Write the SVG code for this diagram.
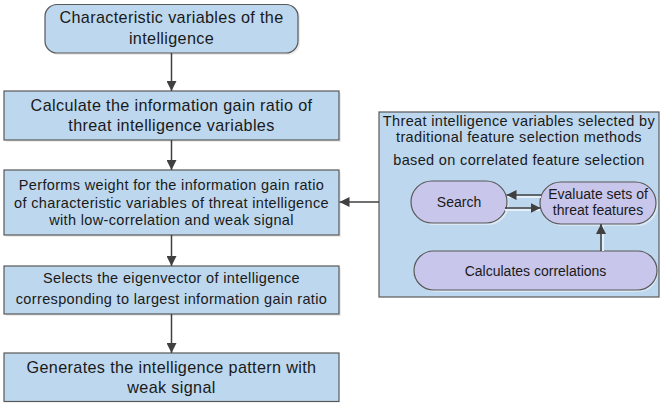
<svg xmlns="http://www.w3.org/2000/svg" width="660" height="403" viewBox="0 0 660 403">
<defs>
<style>
.box{fill:#bdd7ee;stroke:#595959;stroke-width:1.2}
.pill{fill:#c8c6ea;stroke:#595959;stroke-width:1.2}
.sh{fill:#ececec}
.shi{fill:#dbe9f6}
.t{font-family:"Liberation Sans",Arial,sans-serif;fill:#1a1a1a;text-anchor:middle}
.t16{font-size:16.2px;letter-spacing:0.35px}
.t145{font-size:14.5px;letter-spacing:0.35px}
.t14{font-size:14px}
.con{stroke:#404040;stroke-width:1.5;fill:none}
</style>
<marker id="ah" viewBox="0 0 10 10" refX="10" refY="5" markerWidth="10" markerHeight="10" markerUnits="userSpaceOnUse" orient="auto">
<path d="M0,0 L10,5 L0,10 Z" fill="#404040"/>
</marker>
</defs>
<rect width="660" height="403" fill="#fff"/>

<g id="n1">
<rect class="sh" x="47" y="6" width="253" height="49" rx="12"/>
<rect class="box" x="45" y="4.5" width="253" height="48.5" rx="12"/>
<text class="t t16" x="171.5" y="23">Characteristic variables of the</text>
<text class="t t16" x="171.5" y="44">intelligence</text>
</g>

<g id="n2">
<rect class="sh" x="6" y="93" width="335" height="49"/>
<rect class="box" x="4" y="91" width="335" height="49"/>
<text class="t t16" x="171.5" y="110.5">Calculate the information gain ratio of</text>
<text class="t t16" x="171.5" y="131">threat intelligence variables</text>
</g>

<g id="n3">
<rect class="sh" x="6" y="172" width="335" height="65"/>
<rect class="box" x="4" y="170" width="335" height="65"/>
<text class="t t145" x="171.5" y="190">Performs weight for the information gain ratio</text>
<text class="t t145" x="171.5" y="207.5">of characteristic variables of threat intelligence</text>
<text class="t t145" x="171.5" y="225">with low-correlation and weak signal</text>
</g>

<g id="n4">
<rect class="sh" x="6" y="268" width="335" height="48"/>
<rect class="box" x="4" y="266" width="335" height="48"/>
<text class="t t145" x="171.5" y="283">Selects the eigenvector of intelligence</text>
<text class="t t145" x="171.5" y="304">corresponding to largest information gain ratio</text>
</g>

<g id="n5">
<rect class="box" x="4" y="353" width="335" height="48.5"/>
<text class="t t16" x="171.5" y="372.5">Generates the intelligence pattern with</text>
<text class="t t16" x="171.5" y="393">weak signal</text>
</g>

<g id="panel">
<rect class="box" x="379" y="112" width="280" height="185"/>
<text class="t t145" x="519" y="126">Threat intelligence variables selected by</text>
<text class="t t145" x="519" y="141.5">traditional feature selection methods</text>
<text class="t t145" x="519" y="165">based on correlated feature selection</text>
</g>

<g id="search">
<rect class="shi" x="413" y="183" width="96" height="42" rx="21"/>
<rect class="pill" x="411" y="181" width="96" height="42" rx="21"/>
<text class="t t14" x="459" y="207">Search</text>
</g>

<g id="evaluate">
<rect class="shi" x="542" y="184" width="116" height="42" rx="21"/>
<rect class="pill" x="540" y="182" width="116" height="42" rx="21"/>
<text class="t t14" x="598" y="199">Evaluate sets of</text>
<text class="t t14" x="598" y="215">threat features</text>
</g>

<g id="calc">
<rect class="shi" x="416" y="253" width="242" height="39" rx="19.5"/>
<rect class="pill" x="414" y="251" width="243" height="39" rx="19.5"/>
<text class="t t14" x="535.5" y="276">Calculates correlations</text>
</g>

<g id="connectors">
<line class="con" x1="171.5" y1="53" x2="171.5" y2="91" marker-end="url(#ah)"/>
<line class="con" x1="171.5" y1="140" x2="171.5" y2="170" marker-end="url(#ah)"/>
<line class="con" x1="171.5" y1="235" x2="171.5" y2="266" marker-end="url(#ah)"/>
<line class="con" x1="171.5" y1="314" x2="171.5" y2="353" marker-end="url(#ah)"/>
<line class="con" x1="379" y1="202" x2="339.5" y2="202" marker-end="url(#ah)"/>
<line x1="541" y1="197" x2="508" y2="197" stroke="#e6eef8" stroke-width="2"/>
<line class="con" x1="541" y1="195" x2="506.5" y2="195" marker-end="url(#ah)"/>
<line x1="505" y1="210" x2="540" y2="210" stroke="#e6eef8" stroke-width="2"/>
<line class="con" x1="505" y1="208" x2="540.5" y2="208" marker-end="url(#ah)"/>
<line x1="603" y1="251" x2="603" y2="226" stroke="#e6eef8" stroke-width="2"/>
<line class="con" x1="601" y1="251" x2="601" y2="224" marker-end="url(#ah)"/>
</g>
</svg>
